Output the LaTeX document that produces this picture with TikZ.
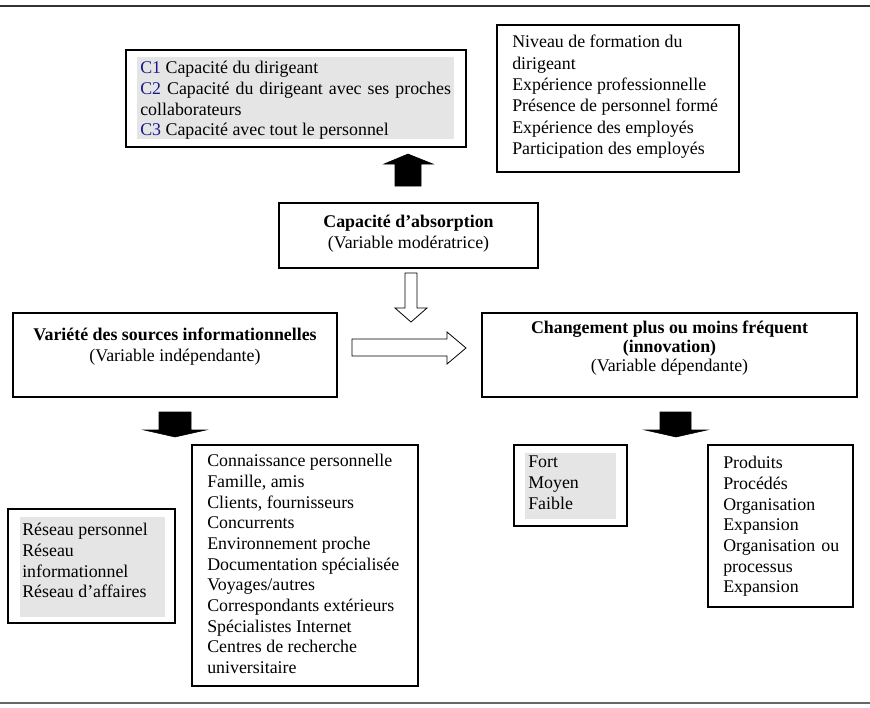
\documentclass[tikz,border=0pt]{standalone}
\usepackage{fontspec}
\setmainfont{Liberation Serif}
\usepackage{tikz}
\usetikzlibrary{fit}

\definecolor{boxgrey}{gray}{0.9}
\definecolor{cblue}{rgb}{0.1,0.1,0.55}
\hyphenpenalty=10000

\begin{document}
\begin{tikzpicture}[x=0.75pt, y=-0.75pt,
    box/.style={draw, line width=0.9pt, inner sep=0pt},
    shade/.style={fill=boxgrey, inner sep=0pt},
    txt/.style={inner sep=0pt, anchor=north west, align=left, font=\fontsize{13.4}{15.5}\selectfont},
    ttl/.style={inner sep=0pt, anchor=north, align=center, font=\fontsize{13.4}{15.5}\selectfont},
    solidarrow/.style={fill=black, draw=black, line width=0.4pt},
    hollowarrow/.style={fill=white, draw=black, line width=0.6pt}]

    \useasboundingbox (0,0) rectangle (870,707);

    \draw[line width=1.8pt, black!80] (0,6) -- (870,6);
    \draw[line width=0.9pt, black!60] (0,703) -- (870,703);

    % boxes
    \node[box, fit={(126,50) (466,147)}] (capbox) {};
    \node[shade, fit={(137,57) (454,139)}] (capgrey) {};
    \node[box, fit={(497,25) (739,172)}] (niveaubox) {};
    \node[box, fit={(279,203) (538,268)}] (absbox) {};
    \node[box, fit={(13,313) (337,397)}] (varbox) {};
    \node[box, fit={(482,313) (857,397)}] (chgbox) {};
    \node[box, fit={(8,509) (175,623)}] (resbox) {};
    \node[shade, fit={(20,517) (165,617)}] (resgrey) {};
    \node[box, fit={(192,445) (418,686)}] (srcbox) {};
    \node[box, fit={(514,445) (627,526)}] (fortbox) {};
    \node[shade, fit={(525,453) (616,519)}] (fortgrey) {};
    \node[box, fit={(708,445) (853,607)}] (prodbox) {};

    % texts
    \node[txt, text width=233pt, align=justify] (captxt) at (140,61)
        {{\color{cblue}C1} Capacité du dirigeant\\
         {\color{cblue}C2} Capacité du dirigeant avec ses proches collaborateurs\\
         {\color{cblue}C3} Capacité avec tout le personnel};
    \node[txt, font=\fontsize{13.4}{16}\selectfont] (niveautxt) at (512,35)
        {Niveau de formation du\\dirigeant\\Expérience professionnelle\\Présence de personnel formé\\Expérience des employés\\Participation des employés};
    \node[ttl] (abstxt) at (408.5,215)
        {\textbf{Capacité d’absorption}\\(Variable modératrice)};
    \node[ttl] (vartxt) at (175,328)
        {\textbf{Variété des sources informationnelles}\\(Variable indépendante)};
    \node[ttl, font=\fontsize{13.4}{14}\selectfont] (chgtxt) at (669.5,321)
        {\textbf{Changement plus ou moins fréquent}\\\textbf{(innovation)}\\(Variable dépendante)};
    \node[txt] (restxt) at (22,523)
        {Réseau personnel\\Réseau\\informationnel\\Réseau d’affaires};
    \node[txt] (srctxt) at (207,454)
        {Connaissance personnelle\\Famille, amis\\Clients, fournisseurs\\Concurrents\\Environnement proche\\Documentation spécialisée\\Voyages/autres\\Correspondants extérieurs\\Spécialistes Internet\\Centres de recherche\\universitaire};
    \node[txt] (forttxt) at (528,456)
        {Fort\\Moyen\\Faible};
    \node[txt, text width=87pt, align=justify] (prodtxt) at (723,456)
        {Produits\\Procédés\\Organisation\\Expansion\\Organisation ou processus\\Expansion};

    % block arrows
    \filldraw[solidarrow] (395,186) -- (395,164) -- (384,164) -- (408,154) -- (433,164) -- (421,164) -- (421,186) -- cycle;
    \filldraw[hollowarrow] (405,273) -- (417,273) -- (417,308) -- (427,308) -- (411,322) -- (395,308) -- (405,308) -- cycle;
    \filldraw[hollowarrow] (352,339) -- (447,339) -- (447,332) -- (466,348) -- (447,364) -- (447,356) -- (352,356) -- cycle;
    \filldraw[solidarrow] (159,412) -- (191,412) -- (191,430) -- (206,430) -- (175,437) -- (144,430) -- (159,430) -- cycle;
    \filldraw[solidarrow] (660,412) -- (691,412) -- (691,430) -- (707,430) -- (676,437) -- (645,430) -- (660,430) -- cycle;

\end{tikzpicture}
\end{document}
